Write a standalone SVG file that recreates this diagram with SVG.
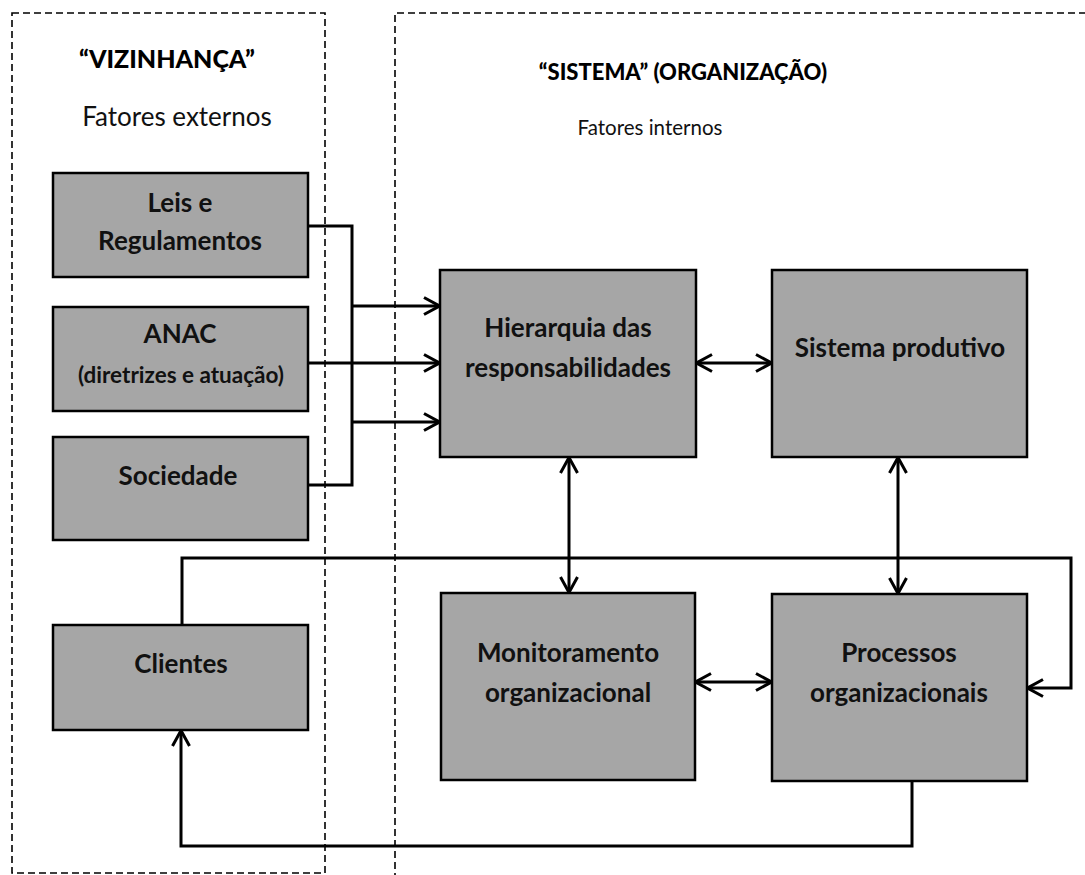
<svg xmlns="http://www.w3.org/2000/svg" width="1085" height="875" viewBox="0 0 1085 875">
  <style>
    .zone { fill: none; stroke: #000; stroke-width: 1.6; stroke-dasharray: 7 4; }
    .box { fill: #a6a6a6; stroke: #000; stroke-width: 2.5; }
    .lbl { font-family: Lato, "Open Sans", "Liberation Sans", sans-serif; font-weight: bold; font-size: 26px; fill: #111; text-anchor: middle; }
    .small { font-size: 22.5px; }
    .title { font-family: Lato, "Open Sans", "Liberation Sans", sans-serif; font-weight: 900; fill: #000; text-anchor: middle; }
    .sub { font-family: Lato, "Open Sans", "Liberation Sans", sans-serif; fill: #111; text-anchor: middle; }
    .wire { fill: none; stroke: #000; stroke-width: 3; stroke-linejoin: miter; }
    .arr { fill: none; stroke: #000; stroke-width: 3; marker-end: url(#head); }
    .bi { fill: none; stroke: #000; stroke-width: 3; marker-start: url(#tail); marker-end: url(#head); }
  </style>
  <defs>
    <!-- open "V" arrowheads -->
    <marker id="head" viewBox="0 0 18 20" refX="17" refY="10" markerWidth="18" markerHeight="20" markerUnits="userSpaceOnUse" orient="auto">
      <path d="M1,1.5 L16.5,10 L1,18.5" fill="none" stroke="#000" stroke-width="3"/>
    </marker>
    <marker id="tail" viewBox="0 0 18 20" refX="1" refY="10" markerWidth="18" markerHeight="20" markerUnits="userSpaceOnUse" orient="auto">
      <path d="M17,1.5 L1.5,10 L17,18.5" fill="none" stroke="#000" stroke-width="3"/>
    </marker>
  </defs>

  <rect x="0" y="0" width="1085" height="875" fill="#fff"/>

  <!-- environment and organisation zones -->
  <g id="zones">
    <rect class="zone" x="12" y="13" width="313" height="860"/>
    <path class="zone" d="M395,880 L395,13 L1090,13"/>
    <text class="title" x="167" y="68" font-size="25">“VIZINHANÇA”</text>
    <text class="sub" x="177" y="126" font-size="26">Fatores externos</text>
    <text class="title" x="683" y="80" font-size="22">“SISTEMA” (ORGANIZAÇÃO)</text>
    <text class="sub" x="650" y="135" font-size="20.5">Fatores internos</text>
  </g>

  <!-- connectors -->
  <g id="connectors">
    <path class="wire" d="M308,226 L352,226 L352,485 L308,485"/>
    <path class="arr" d="M352,306 L440,306"/>
    <path class="arr" d="M308,363 L440,363"/>
    <path class="arr" d="M352,422 L440,422"/>
    <path class="bi" d="M696,363 L772,363"/>
    <path class="bi" d="M569,457 L569,593"/>
    <path class="bi" d="M898,457 L898,594"/>
    <path class="bi" d="M695,682 L772,682"/>
    <path class="arr" d="M182,625 L182,558 L1071,558 L1071,688 L1027,688"/>
    <path class="arr" d="M912,781 L912,846 L181,846 L181,730"/>
  </g>

  <g id="leis">
    <rect class="box" x="53" y="173" width="255" height="104"/>
    <text class="lbl" x="180" y="212">Leis e</text>
    <text class="lbl" x="180" y="250">Regulamentos</text>
  </g>
  <g id="anac">
    <rect class="box" x="53" y="307" width="255" height="104"/>
    <text class="lbl" x="180" y="343">ANAC</text>
    <text class="lbl small" x="181" y="383">(diretrizes e atuação)</text>
  </g>
  <g id="sociedade">
    <rect class="box" x="53" y="437" width="255" height="103"/>
    <text class="lbl" x="178" y="485">Sociedade</text>
  </g>
  <g id="clientes">
    <rect class="box" x="53" y="625" width="255" height="105"/>
    <text class="lbl" x="181" y="673">Clientes</text>
  </g>
  <g id="hierarquia">
    <rect class="box" x="440" y="270" width="256" height="187"/>
    <text class="lbl" x="568" y="337">Hierarquia das</text>
    <text class="lbl" x="568" y="377">responsabilidades</text>
  </g>
  <g id="sistema-produtivo">
    <rect class="box" x="772" y="270" width="255" height="187"/>
    <text class="lbl" x="900" y="357">Sistema produtivo</text>
  </g>
  <g id="monitoramento">
    <rect class="box" x="441" y="593" width="254" height="187"/>
    <text class="lbl" x="568" y="662">Monitoramento</text>
    <text class="lbl" x="568" y="702">organizacional</text>
  </g>
  <g id="processos">
    <rect class="box" x="772" y="594" width="255" height="187"/>
    <text class="lbl" x="899" y="662">Processos</text>
    <text class="lbl" x="899" y="702">organizacionais</text>
  </g>
</svg>
